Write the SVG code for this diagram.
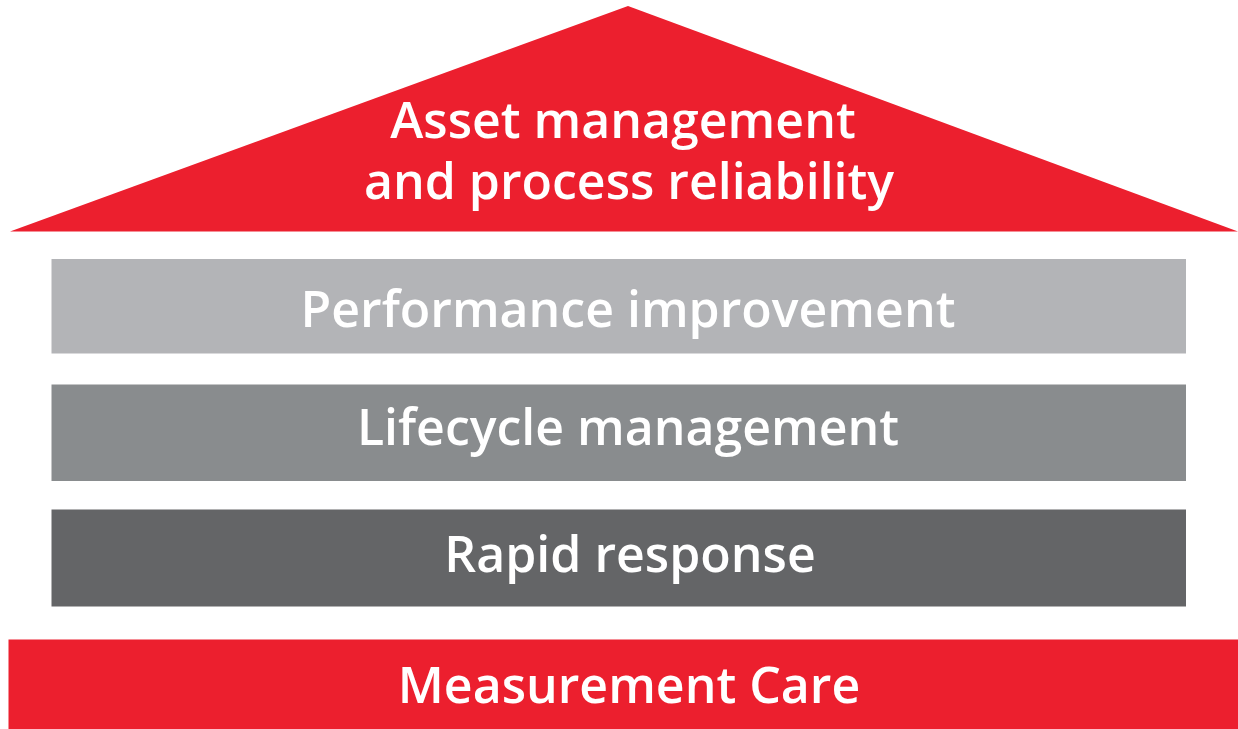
<svg xmlns="http://www.w3.org/2000/svg" width="1238" height="729" viewBox="0 0 1238 729">
<style>
.lbl{font-family:"Open Sans","Liberation Sans",sans-serif;font-weight:600;font-size:50px;fill:#ffffff;text-anchor:middle}
</style>
<rect width="1238" height="729" fill="#ffffff"/>
<g id="roof">
<polygon points="628,6 10,231.5 1238,231.5" fill="#EC1F2E"/>
<text class="lbl" x="623" y="138">Asset management</text>
<text class="lbl" x="629" y="199">and process reliability</text>
</g>
<g id="performance">
<rect x="51.5" y="259" width="1134.5" height="94.5" fill="#B3B4B7"/>
<text class="lbl" x="628" y="327">Performance improvement</text>
</g>
<g id="lifecycle">
<rect x="51.5" y="384.5" width="1134.5" height="96.5" fill="#898C8E"/>
<text class="lbl" x="628" y="445">Lifecycle management</text>
</g>
<g id="rapid">
<rect x="51.5" y="509.5" width="1134.5" height="97" fill="#646567"/>
<text class="lbl" x="630" y="572">Rapid response</text>
</g>
<g id="measurement">
<rect x="8.5" y="639.5" width="1229.5" height="89.5" fill="#EC1F2E"/>
<text class="lbl" x="629" y="703">Measurement Care</text>
</g>
<g id="connectors"/>
</svg>
